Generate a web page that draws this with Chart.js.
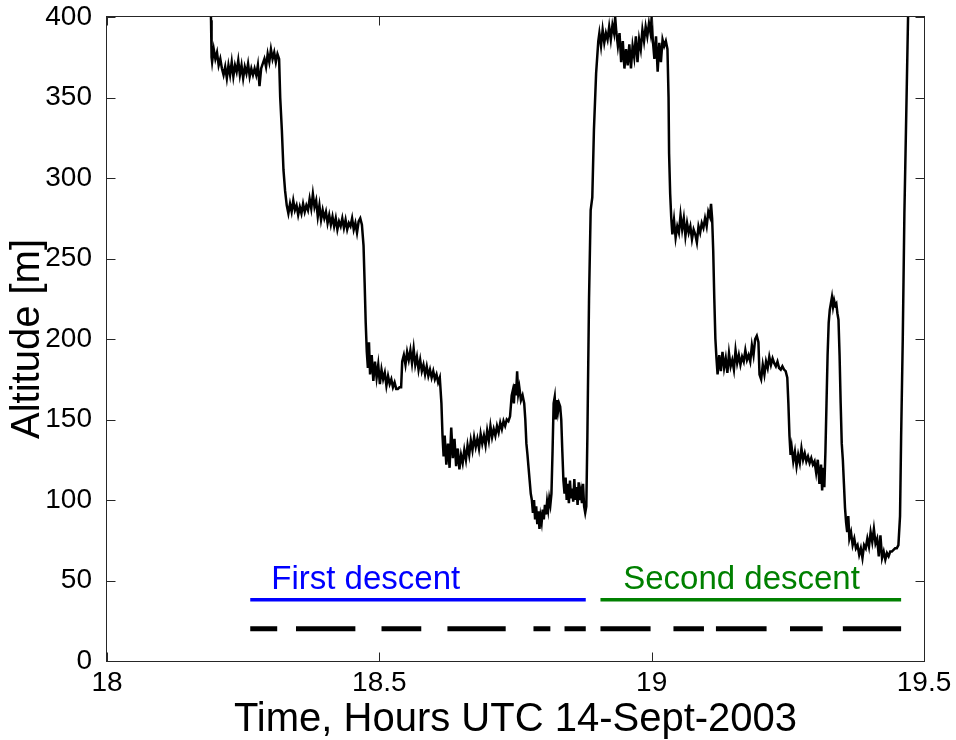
<!DOCTYPE html>
<html>
<head>
<meta charset="utf-8">
<script src="https://cdn.jsdelivr.net/npm/chart.js@4.4.0/dist/chart.umd.min.js"></script>
<style>
  html, body { margin: 0; padding: 0; background: #fff; }
  #wrap { width: 956px; height: 740px; }
</style>
</head>
<body>
<div id="wrap"><canvas id="altitude-chart" width="956" height="740"></canvas></div>
<script>
// altitude trace: [hour UTC, metres]
const altitudeTrace = [
  [18.189, 430], [18.191, 398], [18.192, 375],
  [18.193, 372], [18.196, 380], [18.199, 374], [18.202, 378], [18.205, 370], [18.208, 374],
  [18.211, 368], [18.214, 364], [18.217, 369], [18.220, 362], [18.223, 370], [18.226, 364],
  [18.229, 372], [18.232, 363], [18.235, 370], [18.238, 366], [18.241, 373], [18.244, 364],
  [18.247, 370], [18.250, 362], [18.253, 369], [18.256, 365], [18.259, 371], [18.262, 363],
  [18.265, 368], [18.268, 364], [18.271, 368], [18.274, 364], [18.277, 370], [18.280, 357],
  [18.283, 368], [18.286, 371], [18.289, 374], [18.292, 369], [18.295, 377], [18.298, 372],
  [18.301, 380], [18.304, 374], [18.307, 378], [18.310, 372], [18.313, 377], [18.316, 374],
  [18.318, 350], [18.321, 330], [18.324, 305], [18.327, 292], [18.330, 283],
  [18.333, 278], [18.336, 284], [18.339, 279], [18.342, 286], [18.345, 280], [18.348, 283],
  [18.351, 277], [18.354, 282], [18.357, 278], [18.360, 284], [18.363, 279], [18.366, 283],
  [18.369, 280], [18.372, 287], [18.375, 281], [18.378, 290], [18.381, 282], [18.384, 286],
  [18.387, 276], [18.390, 283], [18.393, 274], [18.396, 280], [18.399, 275], [18.402, 279],
  [18.405, 272], [18.408, 277], [18.411, 271], [18.414, 276], [18.417, 270], [18.420, 275],
  [18.423, 268], [18.426, 273], [18.429, 270], [18.432, 275], [18.435, 269], [18.438, 274],
  [18.441, 268], [18.444, 272], [18.447, 270], [18.450, 275], [18.453, 268], [18.456, 272],
  [18.459, 266], [18.462, 273], [18.465, 275], [18.468, 271],
  [18.471, 258], [18.473, 235], [18.475, 210], [18.477, 192],
  [18.479, 182], [18.481, 198], [18.483, 178], [18.486, 190], [18.489, 174], [18.492, 186],
  [18.495, 176], [18.498, 184], [18.501, 172], [18.504, 181], [18.507, 175], [18.510, 179],
  [18.513, 171], [18.516, 177], [18.519, 172], [18.522, 175], [18.525, 170], [18.528, 173],
  [18.531, 169], [18.534, 169], [18.537, 170], [18.540, 170],
  [18.542, 186], [18.545, 190], [18.548, 184], [18.551, 192], [18.554, 187], [18.557, 193],
  [18.560, 185], [18.563, 194], [18.566, 184], [18.569, 189], [18.572, 181], [18.575, 187],
  [18.578, 180], [18.581, 184], [18.584, 178], [18.587, 183], [18.590, 177], [18.593, 181],
  [18.596, 176], [18.599, 180], [18.602, 175], [18.605, 178], [18.608, 173], [18.611, 176],
  [18.614, 160], [18.616, 140], [18.618, 127],
  [18.620, 140], [18.623, 122], [18.626, 135], [18.629, 120], [18.632, 145], [18.635, 126],
  [18.638, 138], [18.641, 121], [18.644, 132], [18.647, 119], [18.650, 128], [18.653, 123],
  [18.656, 131], [18.659, 125], [18.662, 134], [18.665, 128], [18.668, 137], [18.671, 131],
  [18.674, 139], [18.677, 133], [18.680, 138], [18.683, 132], [18.686, 141], [18.689, 135],
  [18.692, 140], [18.695, 134], [18.698, 143], [18.701, 137], [18.704, 146], [18.707, 139],
  [18.710, 144], [18.713, 140], [18.716, 146], [18.719, 142], [18.722, 148], [18.725, 144],
  [18.728, 149], [18.731, 146], [18.734, 150], [18.737, 149], [18.740, 152],
  [18.743, 165], [18.745, 168], [18.747, 160], [18.749, 172], [18.751, 165], [18.753, 180],
  [18.755, 166], [18.757, 170], [18.760, 162], [18.763, 165], [18.766, 160],
  [18.768, 150], [18.770, 135], [18.772, 128], [18.774, 120], [18.776, 112], [18.778, 104],
  [18.780, 100], [18.782, 92], [18.784, 100], [18.786, 88], [18.788, 96], [18.790, 85],
  [18.792, 93], [18.794, 82], [18.796, 90], [18.798, 86], [18.800, 94], [18.802, 88],
  [18.804, 97], [18.806, 91], [18.808, 99], [18.810, 94], [18.812, 101], [18.814, 97],
  [18.816, 104], [18.818, 130], [18.820, 160],
  [18.822, 164], [18.824, 150], [18.826, 162], [18.828, 155], [18.830, 160], [18.832, 158],
  [18.834, 150], [18.836, 130], [18.838, 112],
  [18.840, 104], [18.842, 114], [18.844, 100], [18.846, 110], [18.848, 98], [18.850, 112],
  [18.852, 101], [18.854, 107], [18.856, 99], [18.858, 113], [18.860, 100], [18.862, 108],
  [18.864, 97], [18.866, 111], [18.868, 100], [18.870, 105], [18.872, 98], [18.874, 110],
  [18.876, 96], [18.878, 92],
  [18.880, 96], [18.882, 140], [18.885, 225], [18.888, 280], [18.891, 288], [18.894, 330],
  [18.898, 365], [18.902, 385],
  [18.904, 390], [18.907, 382], [18.910, 392], [18.913, 384], [18.916, 390], [18.919, 386],
  [18.922, 394], [18.925, 386], [18.928, 395], [18.931, 390], [18.933, 400], [18.935, 391],
  [18.938, 382], [18.941, 390], [18.944, 372], [18.947, 385], [18.950, 368], [18.953, 380],
  [18.956, 370], [18.959, 383], [18.962, 368], [18.965, 382], [18.968, 375], [18.971, 388],
  [18.974, 372], [18.977, 386], [18.980, 380], [18.983, 392], [18.986, 385], [18.989, 394],
  [18.992, 388], [18.995, 396], [18.998, 390], [19.000, 400], [19.002, 386], [19.005, 374],
  [19.008, 388], [19.011, 366], [19.014, 384], [19.017, 372], [19.020, 386], [19.023, 382],
  [19.026, 385], [19.029, 380],
  [19.031, 350], [19.032, 315], [19.034, 290], [19.036, 275],
  [19.038, 265], [19.041, 274], [19.044, 263], [19.047, 270], [19.050, 266], [19.053, 277],
  [19.056, 268], [19.059, 275], [19.062, 264], [19.065, 272], [19.068, 266], [19.071, 270],
  [19.074, 262], [19.077, 268], [19.080, 265], [19.083, 260], [19.086, 270], [19.089, 266],
  [19.092, 272], [19.095, 269], [19.098, 275], [19.101, 270], [19.104, 279], [19.107, 276],
  [19.109, 284], [19.111, 275],
  [19.113, 255], [19.115, 225], [19.117, 200], [19.119, 188],
  [19.121, 178], [19.124, 190], [19.127, 180], [19.130, 192], [19.133, 182], [19.136, 188],
  [19.139, 179], [19.142, 191], [19.145, 183], [19.148, 187], [19.151, 181], [19.154, 193],
  [19.157, 185], [19.160, 190], [19.163, 184], [19.166, 189], [19.169, 186], [19.172, 193],
  [19.175, 187], [19.178, 190], [19.181, 186], [19.184, 196], [19.187, 190], [19.190, 200],
  [19.193, 202], [19.196, 198], [19.198, 178], [19.201, 175], [19.204, 184], [19.207, 178],
  [19.210, 186], [19.213, 182], [19.216, 189], [19.219, 184], [19.222, 188], [19.225, 185],
  [19.228, 183], [19.231, 186], [19.234, 182], [19.237, 181], [19.240, 183], [19.243, 181],
  [19.246, 180], [19.249, 176],
  [19.251, 160], [19.253, 140], [19.255, 128],
  [19.257, 133], [19.260, 124], [19.263, 130], [19.266, 121], [19.269, 128], [19.272, 123],
  [19.275, 132], [19.278, 125], [19.281, 129], [19.284, 124], [19.287, 127], [19.290, 123],
  [19.293, 126], [19.296, 122], [19.299, 124], [19.302, 117], [19.305, 125], [19.308, 110],
  [19.311, 122], [19.313, 106], [19.315, 120], [19.317, 108],
  [19.319, 130], [19.321, 160], [19.323, 190], [19.325, 210], [19.327, 218],
  [19.329, 222], [19.331, 226], [19.333, 220], [19.335, 224], [19.337, 221], [19.339, 222],
  [19.341, 216], [19.343, 212],
  [19.345, 190], [19.347, 160], [19.349, 135], [19.351, 125], [19.353, 110], [19.355, 95],
  [19.357, 86], [19.359, 80], [19.361, 90], [19.363, 76], [19.366, 80], [19.369, 72],
  [19.372, 76], [19.375, 70], [19.378, 72], [19.381, 66], [19.384, 70], [19.387, 64],
  [19.390, 72], [19.393, 70], [19.396, 76], [19.399, 71], [19.402, 80], [19.405, 74],
  [19.408, 82], [19.411, 73], [19.414, 76], [19.417, 65], [19.420, 78], [19.423, 64],
  [19.426, 68], [19.429, 63], [19.432, 67], [19.435, 65], [19.438, 68], [19.441, 68],
  [19.444, 69], [19.447, 70], [19.450, 70], [19.453, 72],
  [19.456, 90], [19.458, 139], [19.461, 200], [19.464, 278], [19.468, 350], [19.471, 405],
  [19.473, 440]
];

const xTicks = [18, 18.5, 19, 19.5];
const xTickLabels = ["18", "18.5", "19", "19.5"];
const yTicks = [0, 50, 100, 150, 200, 250, 300, 350, 400];

// descent bars (start hour, end hour) and their altitude
const firstDescent = [18.263, 18.879];
const secondDescent = [18.906, 19.458];
const descentBarAlt = 38;
const descentLabels = ["First descent", "Second descent"];
const descentLabelHour = [18.475, 19.165];
const descentLabelAlt = 45;

// level legs shown as black dashes
const legSegments = [
  [18.263, 18.3125], [18.347, 18.456], [18.504, 18.577], [18.625, 18.732],
  [18.783, 18.814], [18.840, 18.879], [18.906, 18.998], [19.040, 19.096],
  [19.118, 19.211], [19.254, 19.314], [19.351, 19.458]
];
const legAlt = 20;

const FONT = "'Liberation Sans', Arial, Helvetica, sans-serif";

const legPoints = [];
legSegments.forEach(function (s) {
  legPoints.push({ x: s[0], y: legAlt }, { x: s[1], y: legAlt }, { x: s[1], y: null });
});

// box round the axes, inward ticks on all four sides, descent labels
const matlabFrame = {
  id: "matlabFrame",
  afterDatasetsDraw(chart) {
    const ctx = chart.ctx;
    const a = chart.chartArea;
    const xs = chart.scales.x;
    const ys = chart.scales.y;
    ctx.save();
    ctx.font = "33px " + FONT;
    ctx.textAlign = "center";
    ctx.textBaseline = "alphabetic";
    descentLabels.forEach(function (txt, i) {
      ctx.fillStyle = i === 0 ? "#0000ff" : "#008000";
      ctx.fillText(txt, xs.getPixelForValue(descentLabelHour[i]), ys.getPixelForValue(descentLabelAlt));
    });

    ctx.strokeStyle = "#262626";
    ctx.lineWidth = 1;
    const L = Math.round(a.left) - 0.5, R = Math.round(a.right) + 0.5;
    const T = Math.round(a.top) - 0.5, B = Math.round(a.bottom) + 0.5;
    ctx.strokeRect(L, T, R - L, B - T);
    const tl = 9;
    ctx.beginPath();
    xTicks.forEach(function (v) {
      const px = Math.round(xs.getPixelForValue(v)) + 0.5;
      ctx.moveTo(px, B); ctx.lineTo(px, B - tl);
      ctx.moveTo(px, T); ctx.lineTo(px, T + tl);
    });
    yTicks.forEach(function (v) {
      const py = Math.round(ys.getPixelForValue(v)) + 0.5;
      ctx.moveTo(L, py); ctx.lineTo(L + tl, py);
      ctx.moveTo(R, py); ctx.lineTo(R - tl, py);
    });
    ctx.stroke();
    ctx.restore();
  }
};

document.addEventListener("DOMContentLoaded", function () {
  const ctx = document.getElementById("altitude-chart").getContext("2d");
  new Chart(ctx, {
    type: "line",
    data: {
      datasets: [
        {
          label: "Altitude",
          data: altitudeTrace.map(function (p) { return { x: p[0], y: p[1] }; }),
          borderColor: "#000000",
          borderWidth: 2.5,
          pointRadius: 0,
          tension: 0,
          clip: 0
        },
        {
          label: "First descent",
          data: [{ x: firstDescent[0], y: descentBarAlt }, { x: firstDescent[1], y: descentBarAlt }],
          borderColor: "#0000ff",
          borderWidth: 3.5,
          pointRadius: 0
        },
        {
          label: "Second descent",
          data: [{ x: secondDescent[0], y: descentBarAlt }, { x: secondDescent[1], y: descentBarAlt }],
          borderColor: "#008000",
          borderWidth: 3.5,
          pointRadius: 0
        },
        {
          label: "Legs",
          data: legPoints,
          borderColor: "#000000",
          borderWidth: 5,
          pointRadius: 0,
          spanGaps: false
        }
      ]
    },
    options: {
      responsive: false,
      animation: false,
      layout: { padding: { left: 0, top: 17, right: 32, bottom: 0 } },
      plugins: {
        legend: { display: false },
        tooltip: { enabled: false }
      },
      scales: {
        x: {
          type: "linear",
          min: 18,
          max: 19.5,
          afterBuildTicks: function (s) { s.ticks = xTicks.map(function (v) { return { value: v }; }); },
          afterFit: function (s) { s.height = 79; s.paddingLeft = 0; s.paddingRight = 0; },
          grid: { display: false },
          border: { display: false },
          ticks: {
            color: "#000",
            padding: -3,
            maxRotation: 0,
            autoSkip: false,
            font: { family: FONT, size: 28 },
            callback: function (v) { return xTickLabels[xTicks.indexOf(v)]; }
          },
          title: {
            display: true,
            text: "Time, Hours UTC 14-Sept-2003",
            color: "#000",
            padding: { top: 0, bottom: 0 },
            font: { family: FONT, size: 40, lineHeight: 1.0 }
          }
        },
        y: {
          min: 0,
          max: 400,
          afterBuildTicks: function (s) { s.ticks = yTicks.map(function (v) { return { value: v }; }); },
          afterFit: function (s) { s.width = 107; s.paddingTop = 0; s.paddingBottom = 0; },
          grid: { display: false },
          border: { display: false },
          ticks: {
            color: "#000",
            padding: 7,
            autoSkip: false,
            font: { family: FONT, size: 28 }
          },
          title: {
            display: true,
            text: "Altitude [m]",
            color: "#000",
            padding: { top: 4, bottom: 0 },
            font: { family: FONT, size: 40 }
          }
        }
      }
    },
    plugins: [matlabFrame]
  });
});
</script>
</body>
</html>
